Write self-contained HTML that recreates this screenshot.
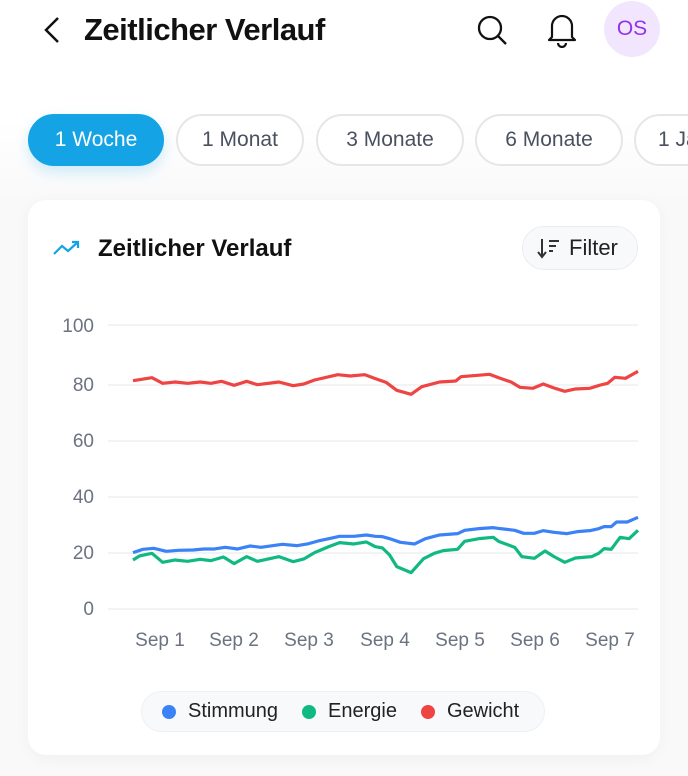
<!DOCTYPE html>
<html><head><meta charset="utf-8"><style>
*{box-sizing:border-box;margin:0;padding:0}
body{width:688px;height:776px;overflow:hidden;background:#f9f9fa;font-family:"Liberation Sans",sans-serif;position:relative}
.top{position:absolute;left:0;top:0;width:688px;height:200px;background:linear-gradient(#fff 60%,#f9f9fa)}
.title{position:absolute;left:84px;top:12px;font-size:31px;font-weight:bold;color:#111;letter-spacing:-0.5px}
.pill{position:absolute;top:114px;height:52px;border-radius:26px;border:2px solid #e6e6ea;background:#fff;font-size:21px;color:#4a5060;display:flex;align-items:center;justify-content:center}
.act{background:#14a3e4;border-color:#14a3e4;color:#fff;box-shadow:0 6px 14px rgba(20,163,228,.2)}
.card{position:absolute;left:28px;top:200px;width:632px;height:555px;background:#fff;border-radius:18px;box-shadow:0 4px 16px rgba(0,0,0,.04)}
.yl{position:absolute;width:40px;text-align:right;left:54px;font-size:19px;color:#6b7280}
.xl{position:absolute;top:630px;font-size:19px;color:#6b7280;width:80px;text-align:center}
</style></head><body>
<div class="top"></div>
<svg style="position:absolute;left:40px;top:14px" width="24" height="32"><polyline points="18,4 6,16 18,28" fill="none" stroke="#111" stroke-width="2.5"/></svg>
<div class="title">Zeitlicher Verlauf</div>
<svg style="position:absolute;left:474px;top:12px" width="36" height="36"><circle cx="16" cy="16" r="11" fill="none" stroke="#111" stroke-width="2.3"/><line x1="24" y1="24" x2="32" y2="32" stroke="#111" stroke-width="2.3"/></svg>
<svg style="position:absolute;left:544px;top:10px" width="36" height="38"><path d="M8 27 V16 a10 10 0 0 1 20 0 V27 L31 30 H5 Z" fill="none" stroke="#111" stroke-width="2.2" stroke-linejoin="round"/><path d="M14 33 a4 4 0 0 0 8 0" fill="none" stroke="#111" stroke-width="2.2"/></svg>
<div style="position:absolute;left:604px;top:1px;width:56px;height:56px;border-radius:50%;background:#f2e6fe;color:#9333ea;font-size:21px;display:flex;align-items:center;justify-content:center">OS</div>
<div class="pill act" style="left:28px;width:136px">1 Woche</div>
<div class="pill" style="left:176px;width:128px">1 Monat</div>
<div class="pill" style="left:316px;width:148px">3 Monate</div>
<div class="pill" style="left:475px;width:148px">6 Monate</div>
<div class="pill" style="left:634px;width:120px;justify-content:flex-start;padding-left:22px">1 Jahr</div>
<div class="card"></div>
<svg style="position:absolute;left:52px;top:238px" width="30" height="20"><polyline points="2,16 10,8 16,13 26,4" fill="none" stroke="#14a3e4" stroke-width="2.2"/><polyline points="20,4 26,4 26,10" fill="none" stroke="#14a3e4" stroke-width="2.2"/></svg>
<div style="position:absolute;left:98px;top:235px;font-size:24px;font-weight:bold;color:#111">Zeitlicher Verlauf</div>
<div style="position:absolute;left:522px;top:226px;width:116px;height:44px;border-radius:22px;border:1px solid #ececf0;background:#f8f9fb;font-size:22px;color:#222;display:flex;align-items:center;padding-left:14px"><svg width="26" height="24"><line x1="5" y1="3" x2="5" y2="20" stroke="#333" stroke-width="2"/><polyline points="1,16 5,21 9,16" fill="none" stroke="#333" stroke-width="2"/><line x1="12" y1="5" x2="22" y2="5" stroke="#333" stroke-width="2"/><line x1="12" y1="10" x2="19" y2="10" stroke="#333" stroke-width="2"/><line x1="12" y1="15" x2="16" y2="15" stroke="#333" stroke-width="2"/></svg><span style="margin-left:6px">Filter</span></div>
<div class="yl" style="top:316px">100</div>
<div class="yl" style="top:375px">80</div>
<div class="yl" style="top:431px">60</div>
<div class="yl" style="top:487px">40</div>
<div class="yl" style="top:543px">20</div>
<div class="yl" style="top:599px">0</div>
<svg style="position:absolute;left:0;top:0" width="688" height="776">
<g stroke="#eeeff1" stroke-width="1.5"><line x1="108" y1="325" x2="638" y2="325"/><line x1="108" y1="385" x2="638" y2="385"/><line x1="108" y1="441" x2="638" y2="441"/><line x1="108" y1="497" x2="638" y2="497"/><line x1="108" y1="553" x2="638" y2="553"/><line x1="108" y1="609" x2="638" y2="609"/></g>
<g transform="translate(133,350) scale(0.3574,0.3333) translate(-92,0)" fill="none" stroke-width="3.2" stroke-linejoin="round">
<polyline vector-effect="non-scaling-stroke" stroke="#ef4444" points="92,92 145,83 175,100 210,96 245,100 280,96 310,100 340,94 375,106 410,94 440,104 500,96 540,107 570,102 600,90 665,74 700,78 740,74 770,86 800,97 830,121 870,133 900,110 950,96 995,93 1010,80 1090,73 1120,85 1150,96 1175,112 1210,115 1240,102 1270,114 1300,124 1330,117 1370,115 1400,105 1420,100 1440,82 1470,85 1505,64"/>
<polyline vector-effect="non-scaling-stroke" stroke="#3b82f6" points="92,608 120,598 150,595 185,604 220,601 260,600 290,597 320,597 350,592 385,597 420,588 450,592 510,583 550,587 580,582 610,573 640,566 670,559 710,559 745,555 770,559 790,560 810,566 840,577 880,582 910,566 950,555 1000,551 1020,541 1060,536 1100,533 1120,536 1160,541 1185,550 1215,550 1240,542 1270,547 1305,551 1335,545 1370,542 1395,536 1410,530 1430,530 1445,516 1475,516 1505,502"/>
<polyline vector-effect="non-scaling-stroke" stroke="#10b981" points="92,630 110,618 145,610 175,637 210,630 245,634 280,628 310,632 345,621 375,641 410,620 440,634 500,620 540,635 570,627 600,608 640,590 670,578 710,582 745,576 770,590 790,594 810,615 830,650 870,668 905,626 935,610 960,602 1000,598 1020,574 1060,566 1100,562 1115,574 1160,592 1180,620 1215,625 1245,603 1270,620 1300,637 1330,624 1375,620 1395,610 1410,596 1430,598 1455,562 1480,566 1505,541"/>
</g></svg>
<div class="xl" style="left:120px">Sep 1</div>
<div class="xl" style="left:194px">Sep 2</div>
<div class="xl" style="left:269px">Sep 3</div>
<div class="xl" style="left:345px">Sep 4</div>
<div class="xl" style="left:420px">Sep 5</div>
<div class="xl" style="left:495px">Sep 6</div>
<div class="xl" style="left:570px">Sep 7</div>
<div style="position:absolute;left:141px;top:691px;width:404px;height:41px;border-radius:21px;border:1px solid #eef0f3;background:#f8f9fb;font-size:20px;color:#222;display:flex;align-items:center;padding-left:20px">
<span style="width:14px;height:14px;border-radius:50%;background:#3b82f6;display:inline-block"></span><span style="margin:0 24px 0 12px">Stimmung</span>
<span style="width:14px;height:14px;border-radius:50%;background:#10b981;display:inline-block"></span><span style="margin:0 24px 0 12px">Energie</span>
<span style="width:14px;height:14px;border-radius:50%;background:#ef4444;display:inline-block"></span><span style="margin-left:12px">Gewicht</span>
</div>
</body></html>
